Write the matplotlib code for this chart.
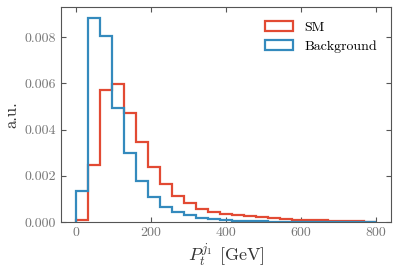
import numpy as np
import matplotlib
matplotlib.use("Agg")
import matplotlib.pyplot as plt

bin_edges = np.arange(0, 801, 32)
sm_values = [0.00007, 0.00246, 0.00572, 0.00597, 0.00473, 0.00346, 0.00239, 0.00164,
             0.00112, 0.00081, 0.00055, 0.00042, 0.00036, 0.00032, 0.00027, 0.00022,
             0.00016, 0.00013, 0.00010, 0.00009, 0.00007, 0.00006, 0.00004, 0.00004, 0.0]
bg_values = [0.00136, 0.00884, 0.00806, 0.00494, 0.00298, 0.00176, 0.00108, 0.00065,
             0.00042, 0.00029, 0.00019, 0.00013, 0.00009, 0.00006, 0.00004, 0.00003,
             0.00002, 0.000015, 0.00001, 0.00001, 0.000008, 0.000006, 0.000005, 0.000004, 0.000003]
x_ticks = [0, 200, 400, 600, 800]
y_ticks = [0.0, 0.002, 0.004, 0.006, 0.008]
y_tick_labels = ['0.000', '0.002', '0.004', '0.006', '0.008']

plt.rcParams['font.family'] = ['cmr10', 'DejaVu Serif']
plt.rcParams['mathtext.fontset'] = 'cm'
plt.rcParams['axes.formatter.use_mathtext'] = True

fig = plt.figure(figsize=(3.99, 2.70), dpi=100)
ax = fig.add_axes([61/399, 1 - 222/270, (391-61)/399, (222-7)/270])

centers = (bin_edges[:-1] + bin_edges[1:]) / 2
ax.hist(centers, bins=bin_edges, weights=sm_values, histtype='step', color='#E24A33', lw=1.6, label='SM')
ax.hist(centers, bins=bin_edges, weights=bg_values, histtype='step', color='#348ABD', lw=1.6, label='Background')

ax.set_xlim(-40, 840)
ax.set_ylim(0, 0.0093)
ax.set_xticks(x_ticks)
ax.set_xticklabels([str(t) for t in x_ticks])
ax.set_yticks(y_ticks)
ax.set_yticklabels(y_tick_labels)
ax.tick_params(direction='in', top=True, right=True, labelsize=10, labelcolor='#777777', color='#555555')
for s in ax.spines.values():
    s.set_color('#555555')
ax.set_ylabel('a.u.', fontsize=12, color='#333333')
ax.set_xlabel(r'$P_t^{j_1}$ [GeV]', fontsize=13, color='#333333', labelpad=2)
ax.legend(loc='upper right', frameon=False, fontsize=10, handlelength=2.0,
          borderaxespad=0.6, labelspacing=0.45)

fig.savefig('out.png', dpi=100)
